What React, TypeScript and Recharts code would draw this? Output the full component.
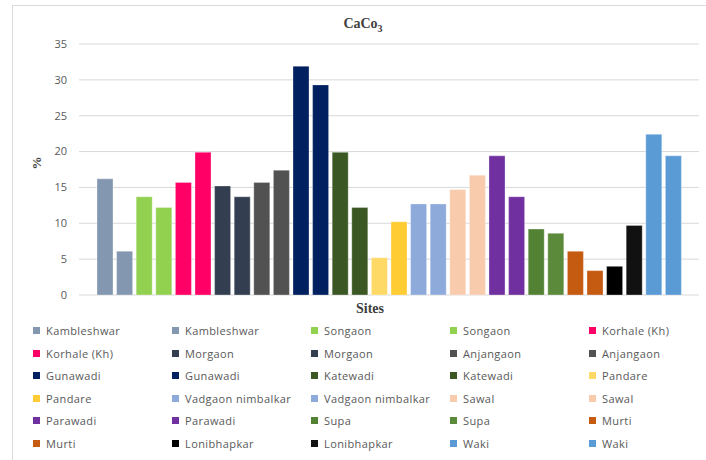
import React from "react";
import { Bar, BarChart, CartesianGrid, XAxis, YAxis } from "recharts";

const sites = [
  "Kambleshwar", "Kambleshwar", "Songaon", "Songaon", "Korhale (Kh)",
  "Korhale (Kh)", "Morgaon", "Morgaon", "Anjangaon", "Anjangaon",
  "Gunawadi", "Gunawadi", "Katewadi", "Katewadi", "Pandare",
  "Pandare", "Vadgaon nimbalkar", "Vadgaon nimbalkar", "Sawal", "Sawal",
  "Parawadi", "Parawadi", "Supa", "Supa", "Murti",
  "Murti", "Lonibhapkar", "Lonibhapkar", "Waki", "Waki",
];

const caco3 = [
  16.2, 6.1, 13.7, 12.2, 15.7, 19.9, 15.2, 13.7, 15.7, 17.4,
  31.9, 29.3, 19.9, 12.2, 5.2, 10.2, 12.7, 12.7, 14.7, 16.7,
  19.4, 13.7, 9.2, 8.6, 6.1, 3.4, 4.0, 9.7, 22.4, 19.4,
];

const colors = [
  "#8497b0", "#8497b0", "#92d050", "#92d050", "#ff0066",
  "#ff0066", "#333f50", "#333f50", "#525252", "#525252",
  "#002060", "#002060", "#3a5724", "#3a5724", "#ffd966",
  "#ffcc33", "#8eaadb", "#8eaadb", "#f8cbad", "#f8cbad",
  "#7030a0", "#7030a0", "#548235", "#5b8a3a", "#c55a11",
  "#c55a11", "#000000", "#111111", "#5b9bd5", "#5b9bd5",
];

const yTicks = [0, 5, 10, 15, 20, 25, 30, 35];

const keys = sites.map((_, i) => "s" + i);
const row: Record<string, number | string> = { cat: "" };
keys.forEach((k, i) => (row[k] = caco3[i]));
const data = [row];

const font = "'Open Sans', 'Liberation Sans', sans-serif";
const serif = "'Liberation Serif', 'Times New Roman', serif";

export default function App() {
  return (
    <div style={{ position: "absolute", left: 0, top: 0, width: 706, height: 460, background: "#fff", overflow: "hidden" }}>
      <div style={{ position: "absolute", left: 12, top: 5, width: 720, height: 480, border: "1px solid #d9d9d9" }} />
      <div style={{ position: "absolute", left: 0, width: 726, top: 16, textAlign: "center", fontFamily: serif, fontWeight: "bold", fontSize: 14, color: "#404040" }}>
        CaCo<sub style={{ fontSize: 10 }}>3</sub>
      </div>
      <div style={{ position: "absolute", left: 0, width: 740, top: 301, textAlign: "center", fontFamily: serif, fontWeight: "bold", fontSize: 14, color: "#404040" }}>
        Sites
      </div>
      <div style={{ position: "absolute", left: 30, top: 155, transform: "rotate(-90deg)", fontFamily: serif, fontWeight: "bold", fontSize: 13, color: "#404040" }}>
        %
      </div>
      <div style={{ position: "absolute", left: 0, top: 0 }}>
        <BarChart width={706} height={460} data={data} margin={{ top: 44, right: 7, left: 0, bottom: 165 }} barSize={16} barGap={3.6}>
          <CartesianGrid vertical={false} stroke="#d9d9d9" />
          <XAxis dataKey="cat" hide />
          <YAxis
            width={79}
            domain={[0, 35]}
            ticks={yTicks}
            axisLine={false}
            tickLine={false}
            tickSize={0}
            tickMargin={12}
            tick={{ fill: "#595959", fontSize: 11, fontFamily: font }}
          />
          {keys.map((k, i) => (
            <Bar key={k} dataKey={k} name={sites[i]} fill={colors[i]} stroke="#ffffff" strokeOpacity={0.5} strokeWidth={0.6} isAnimationActive={false} />
          ))}
        </BarChart>
      </div>
      {sites.map((s, i) => (
        <div
          key={i}
          style={{
            position: "absolute",
            left: 33 + (i % 5) * 139,
            top: 323 + Math.floor(i / 5) * 22.6,
            display: "flex",
            alignItems: "center",
            fontFamily: font,
            fontSize: 11,
            letterSpacing: 0.4,
            color: "#595959",
            whiteSpace: "nowrap",
          }}
        >
          <span style={{ display: "inline-block", width: 7, height: 7, background: colors[i], marginRight: 6 }} />
          {s}
        </div>
      ))}
    </div>
  );
}
